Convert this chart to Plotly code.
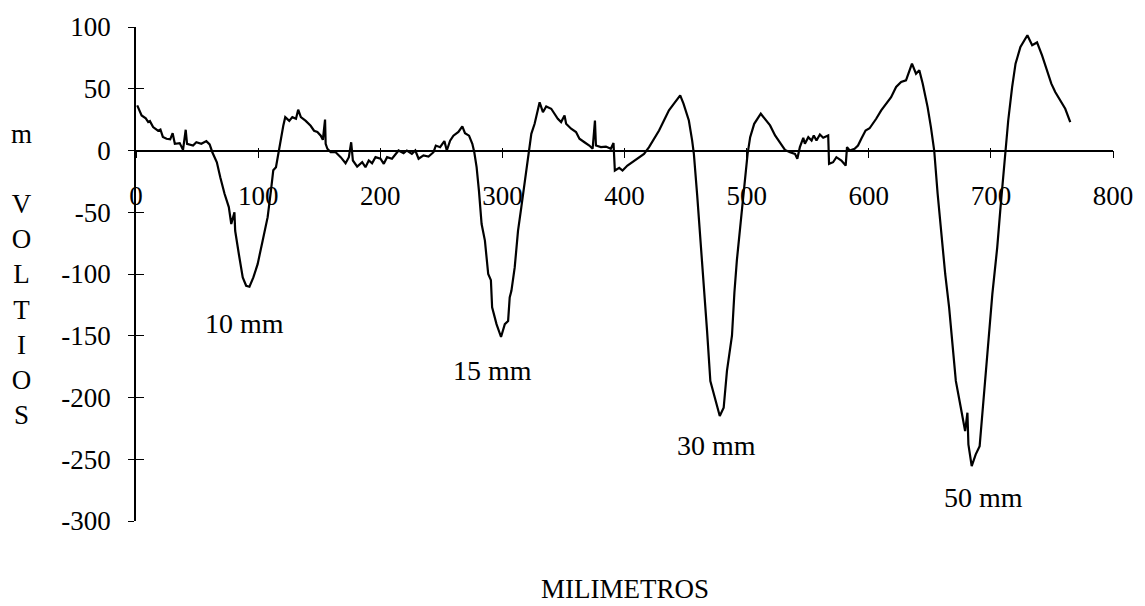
import plotly.graph_objects as go

# Distance (mm) and signal (mV)
mm = [1, 4.6, 8, 10, 11.4, 14, 18, 20, 22, 25, 28, 30, 31.8, 35.8, 38.5, 40.7, 41.8, 46.7, 49.4, 53.5,
      57.6, 60.3, 62.5, 66.2, 69, 72.5, 76, 78, 80.6, 81.2, 84.2, 87.4, 90.2, 92.9, 96.1, 99.6, 103.7,
      107.8, 110.5, 112.4, 114.6, 116.8, 118.7, 120.6, 122.2, 125.5, 128, 131, 132.8, 135, 139, 143,
      145.8, 148.5, 151.3, 153, 154.8, 155.3, 156.7, 159.4, 163.5, 167.6, 171.6, 174.3, 176.2, 177.6,
      181.1, 185.2, 187.9, 190.6, 193.3, 196.1, 200.2, 202.9, 205.6, 209.6, 215, 219.1, 221.8, 225.9,
      228.7, 231.4, 235.4, 239.5, 243.6, 245.5, 249, 252.5, 254.5, 257.2, 259.9, 264, 267.2, 269.4,
      272.7, 275.4, 277, 278.9, 280.8, 283, 285.7, 288.4, 290.6, 291.6, 295.2, 298.9, 302, 304.7, 306,
      307.4, 310.1, 312.8, 315.5, 318.3, 321.5, 323.7, 326.4, 330.5, 333.2, 335.9, 340, 342.7, 345.4,
      348.1, 350.9, 352.2, 356.3, 360.3, 363.1, 367.2, 371.2, 373.9, 375.8, 376.6, 380.7, 384.8, 388.8,
      391, 392.1, 395.7, 398.4, 402.4, 406.5, 410.6, 416, 420.1, 424.2, 428.3, 432.3, 436.4, 440.5,
      445.6, 448.3, 452.7, 455.4, 456.8, 459.5, 462.2, 464.9, 467.6, 470.3, 473, 475.8, 478, 481.2,
      483.9, 486.6, 488, 490, 492, 496.1, 498.8, 500.8, 502.9, 506.2, 511.6, 515.1, 519.2, 523.3, 527.3,
      531.4, 535.5, 539.6, 541.5, 543.6, 546.4, 547.7, 550.5, 553.2, 555, 557.2, 560, 562.7, 566.8,
      567.5, 570.8, 573.5, 577.6, 581.1, 582.2, 584.4, 588.4, 591.2, 593.9, 597.4, 600.7, 604.7, 606.1,
      610.2, 614.3, 618.3, 622.4, 626.5, 630.5, 635.4, 638.7, 641.4, 644.2, 648.2, 650.9, 653.6, 656.4,
      659.9, 662.6, 665.8, 668.6, 671.3, 675.4, 678.9, 680.8, 681.6, 684.3, 687.6, 690.8, 693.6, 697.1,
      701.2, 705.2, 707.9, 711.5, 714.2, 717.4, 720.2, 724.2, 729.9, 733.8, 737.8, 741.9, 746, 749.5,
      752.7, 756.8, 760.9, 765]
mv = [36.5, 28.4, 26, 23, 23.8, 19, 16, 17, 11, 9.5, 9, 14, 5.4, 6, 0.5, 16.8, 5.4, 4, 6.7, 5.4,
      7.6, 4.9, -1.4, -9.5, -21.6, -35, -45.8, -59.5, -50, -65, -83.8, -102.8, -109.5, -110.3, -102.8, -92, -73,
      -54, -32.5, -16, -13.5, 0, 8, 20, 27, 24, 27, 25.7, 33, 27, 24, 20,
      16, 15, 12, 8.7, 25, 5.4, 1.4, -1.4, -1.4, -5.4, -10.3, -5.4, 6.7, -8.1,
      -13, -9.5, -13.5, -8.1, -10.3, -5.4, -6.7, -10.8, -5.4, -6.7, 0, -2.2, 0, -2.7,
      0, -6.7, -4, -4.9, -1.4, 4, 2.7, 7.6, 0, 8, 12, 15, 19.5, 14,
      12, 5.4, -1.4, -13.5, -32.5, -59.5, -73, -100, -105, -127, -140.6, -151, -140.6, -138, -119,
      -113.6, -94.7, -65, -46, -24.3, -1.4, 13.5, 21.6, 39, 31, 35.7, 33.8, 29.8, 25.7,
      23, 28.4, 21.6, 17.6, 14.9, 9.5, 6.7, 4, 1.4, 24.3, 4, 2.7, 3.2, 1.4,
      6, -16.2, -14, -16.2, -12.2, -9.5, -6.7, -2.7, 2.7, 9.5, 16.2, 24.3, 32.5, 37.9,
      44.6, 38, 24.3, 8, -2.7, -36, -73, -103, -146, -186.6, -197.4, -208.3, -215, -208.3,
      -178.5, -159.6, -150, -115, -89, -48.7, -18.9, -2.7, 10.8, 21.6, 29.8, 25.7, 20.3, 12.2, 6.7,
      0.5, -1.4, -2.7, -6.7, 2.7, 10.3, 5.4, 10.8, 8.1, 12.2, 8.1, 13, 10.3, 12.2,
      -10.8, -9.5, -5.4, -8.1, -12.2, 2.7, 0, 1.4, 4, 9.5, 16.2, 18, 23, 25.7,
      32.5, 37.9, 43.2, 51.4, 55.4, 56.8, 70.3, 62.2, 64.9, 54.1, 35.1, 18.9, 0, -35,
      -73, -100, -127, -157, -186.6, -208.3, -227.2, -212.3, -238, -255.6, -246, -239.4, -208.3, -165,
      -116.3, -78.5, -46, -2.7, 24.3, 51.4, 70.3, 83.8, 93.3, 85.2, 87.5, 77, 65, 54.1,
      47.3, 40.6, 33.8, 23]

x_ticks = [0, 100, 200, 300, 400, 500, 600, 700, 800]
x_tick_text = ["0", "100", "200", "300", "400", "500", "600", "700", "800"]
y_ticks = [100, 50, 0, -50, -100, -150, -200, -250, -300]
y_tick_text = ["100", "50", "0", "-50", "-100", "-150", "-200", "-250", "-300"]

label_text = ["10 mm", "15 mm", "30 mm", "50 mm"]
label_x = [89, 292, 475, 694]
label_y = [-140, -178, -239, -281]

FONT = "Liberation Serif, Times New Roman, serif"
X_RANGE = [0, 800]
Y_RANGE = [-300, 100]
x_axis_pos = (0 - Y_RANGE[0]) / (Y_RANGE[1] - Y_RANGE[0])

fig = go.Figure()
fig.add_trace(go.Scatter(x=mm, y=mv, mode="lines",
                         line=dict(color="black", width=2.2), showlegend=False,
                         hoverinfo="skip"))
fig.add_trace(go.Scatter(x=[None], y=[None], xaxis="x2", yaxis="y2",
                         showlegend=False, hoverinfo="skip"))

for t, xx, yy in zip(label_text, label_x, label_y):
    fig.add_annotation(x=xx, y=yy, text=t, showarrow=False,
                       font=dict(family=FONT, size=28, color="black"),
                       xanchor="center", yanchor="middle")

fig.add_annotation(xref="paper", yref="paper", x=-0.117, y=0.5,
                   text="m<br> <br>V<br>O<br>L<br>T<br>I<br>O<br>S", showarrow=False,
                   font=dict(family=FONT, size=27, color="black"),
                   xanchor="center", yanchor="middle", align="center")
fig.add_annotation(xref="paper", yref="paper", x=0.5, y=-0.137,
                   text="MILIMETROS", showarrow=False,
                   font=dict(family=FONT, size=27, color="black"),
                   xanchor="center", yanchor="middle")

axis_font = dict(family=FONT, size=27, color="black")
fig.update_layout(
    width=1145, height=606,
    margin=dict(l=136, r=27, t=27, b=85),
    paper_bgcolor="white", plot_bgcolor="white",
    xaxis=dict(range=X_RANGE, anchor="free", position=x_axis_pos,
               showline=True, linecolor="black", linewidth=1.5,
               showgrid=False, zeroline=False,
               tickmode="array", tickvals=x_ticks, ticktext=x_tick_text,
               ticks="outside", ticklen=7, tickwidth=1, tickcolor="black",
               tickfont=axis_font, ticklabelstandoff=14),
    yaxis=dict(range=Y_RANGE, showline=True, linecolor="black", linewidth=1.5,
               showgrid=False, zeroline=False,
               tickmode="array", tickvals=y_ticks, ticktext=y_tick_text,
               ticks="outside", ticklen=6, tickwidth=1, tickcolor="black",
               tickfont=axis_font, ticklabelstandoff=12),
    xaxis2=dict(range=X_RANGE, overlaying="x", anchor="free", position=x_axis_pos,
                showline=False, showgrid=False, zeroline=False,
                tickmode="array", tickvals=x_ticks, ticks="inside", ticklen=3,
                tickwidth=1, tickcolor="black", showticklabels=False),
    yaxis2=dict(range=Y_RANGE, overlaying="y", anchor="x2",
                showline=False, showgrid=False, zeroline=False,
                tickmode="array", tickvals=y_ticks, ticks="inside", ticklen=8,
                tickwidth=1, tickcolor="black", showticklabels=False),
)

fig.write_html("out.html")
